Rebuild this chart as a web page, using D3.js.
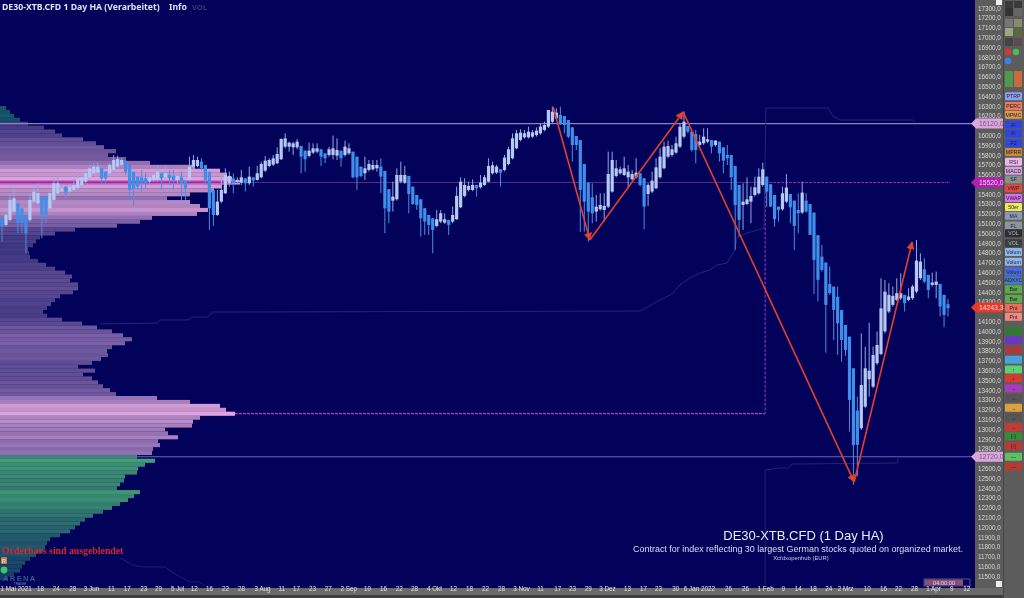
<!DOCTYPE html>
<html><head><meta charset="utf-8">
<script src="https://cdn.jsdelivr.net/npm/d3@7"></script>
<style>
html,body{margin:0;padding:0;background:#5a5a5a;overflow:hidden}
svg{display:block;filter:blur(0.4px)}
</style></head><body>
<svg id="c" width="1024" height="598"></svg>
<script>
// ---- candle data (Heikin-Ashi, index points) ----
const opens=[15154,15086,15137,15222,15307,15256,15188,15137,15324,15307,15375,15375,15256,15341,15409,15426,15477,15426,15443,15460,15494,15528,15572,15613,15620,15664,15630,15613,15647,15681,15698,15742,15698,15630,15579,15572,15562,15528,15545,15545,15613,15572,15596,15586,15545,15572,15538,15545,15681,15688,15732,15698,15630,15443,15188,15324,15409,15511,15562,15525,15518,15562,15511,15572,15545,15572,15640,15688,15701,15715,15756,15885,15885,15878,15878,15892,15844,15790,15824,15834,15858,15817,15800,15800,15793,15844,15800,15817,15834,15783,15681,15613,15647,15654,15664,15681,15637,15450,15334,15348,15528,15518,15586,15477,15392,15348,15256,15188,15154,15076,15120,15110,15137,15120,15144,15266,15382,15443,15443,15494,15470,15494,15528,15613,15620,15654,15647,15708,15766,15868,15953,15980,15980,15987,16004,16021,16055,16089,16140,16174,16208,16198,16157,16082,15994,15953,15708,15518,15368,15222,15246,15239,15273,15426,15586,15613,15596,15572,15552,15572,15613,15562,15402,15426,15460,15572,15664,15783,15800,15824,15885,15987,16096,16038,16014,15902,15919,15936,15953,15902,15936,15878,15800,15800,15688,15494,15290,15300,15324,15392,15409,15494,15579,15501,15392,15273,15246,15324,15402,15334,15239,15212,15334,15300,15212,14981,14763,14702,14484,14457,14354,14218,14065,13946,13623,13191,13011,13232,13511,13436,13674,13769,14000,14202,14270,14321,14338,14372,14321,14338,14406,14542,14634,14576,14474,14474,14484,14372,14277];
const closes=[15069,15188,15341,15358,15103,15103,15001,15341,15426,15409,15188,15188,15409,15511,15511,15460,15426,15477,15494,15562,15572,15613,15664,15681,15681,15562,15562,15698,15749,15759,15749,15630,15443,15460,15477,15511,15511,15572,15596,15630,15562,15613,15562,15545,15586,15511,15460,15681,15749,15749,15664,15545,15256,15188,15324,15443,15596,15586,15511,15545,15572,15511,15579,15538,15613,15708,15742,15749,15766,15810,15963,15970,15926,15919,15936,15783,15756,15844,15868,15868,15783,15766,15858,15868,15851,15766,15885,15868,15572,15572,15586,15664,15708,15698,15698,15579,15256,15222,15375,15596,15596,15596,15402,15300,15290,15154,15120,15086,15035,15144,15205,15144,15086,15188,15382,15528,15494,15484,15494,15460,15518,15572,15688,15695,15681,15620,15773,15858,15970,16021,16028,16021,16038,16031,16048,16089,16106,16259,16242,16232,16123,16106,15987,15902,15902,15443,15324,15222,15205,15273,15290,15280,15606,15749,15664,15654,15664,15630,15606,15620,15494,15273,15494,15538,15674,15783,15885,15892,15858,15919,16089,16140,16038,15851,15851,15936,15987,15960,15885,15946,15817,15742,15766,15572,15290,15137,15324,15348,15382,15470,15579,15654,15426,15273,15144,15239,15409,15467,15266,15076,15205,15416,15222,14984,14729,14525,14627,14270,14389,14219,14082,13912,13810,13300,12841,12841,13453,13623,13599,13759,13861,14235,14405,14372,14362,14389,14389,14287,14355,14457,14722,14712,14508,14423,14498,14508,14253,14168,14236];
const highs=[15171,15205,15409,15460,15307,15256,15188,15409,15494,15511,15375,15375,15426,15562,15579,15494,15477,15504,15528,15664,15596,15630,15698,15715,15722,15664,15630,15715,15800,15793,15766,15742,15698,15630,15579,15647,15613,15596,15630,15698,15613,15681,15647,15647,15613,15630,15538,15783,15800,15783,15766,15698,15630,15443,15443,15596,15664,15630,15613,15572,15647,15562,15681,15572,15688,15732,15790,15766,15800,15878,15970,16021,15936,15936,15963,15892,15844,15926,15919,15919,15858,15817,15885,15997,15970,15844,15946,15919,15834,15783,15681,15783,15749,15749,15749,15766,15637,15450,15528,15664,15732,15688,15586,15477,15392,15348,15256,15188,15154,15239,15239,15205,15137,15273,15477,15572,15562,15528,15552,15494,15596,15596,15766,15732,15698,15654,15800,15885,16021,16055,16062,16055,16089,16055,16082,16123,16140,16259,16293,16276,16293,16198,16157,16082,15994,15953,15708,15518,15511,15392,15409,15409,15834,15834,15749,15681,15783,15698,15647,15766,15613,15562,15511,15630,15766,15868,15936,15946,15902,15987,16123,16242,16096,16055,16055,16004,16072,16072,15953,15953,15936,15878,15902,15800,15688,15494,15511,15572,15477,15579,15664,15722,15579,15501,15392,15273,15477,15606,15402,15334,15409,15528,15409,15300,15212,14981,14882,14702,14661,14457,14456,14218,14065,13946,13623,13334,13980,13844,14089,13844,13997,14542,14524,14491,14457,14542,14593,14372,14440,14474,14933,14797,14746,14576,14600,14610,14484,14372,14328];
const lows=[14916,15069,15120,15205,15001,15001,14797,15120,15307,15290,14950,15103,15239,15324,15392,15409,15358,15409,15426,15443,15477,15511,15562,15596,15596,15511,15511,15596,15630,15664,15688,15596,15358,15273,15443,15426,15460,15511,15528,15528,15443,15562,15494,15443,15511,15341,15341,15528,15664,15674,15647,15494,15035,15076,15178,15307,15402,15477,15409,15504,15494,15426,15494,15477,15538,15562,15627,15674,15688,15708,15749,15868,15834,15800,15858,15613,15630,15776,15810,15817,15688,15715,15783,15756,15749,15681,15783,15800,15562,15443,15572,15545,15630,15640,15630,15409,15001,15103,15222,15334,15511,15504,15205,15290,15239,14967,14984,14984,14797,15062,15103,15096,14984,15103,15137,15256,15368,15426,15430,15375,15456,15484,15518,15600,15606,15477,15633,15695,15756,15858,15939,15967,15967,15973,15987,16007,16041,16075,16123,16157,16106,16021,15970,15732,15851,15015,15018,14916,15103,15120,15232,15120,15259,15416,15572,15599,15586,15460,15538,15559,15477,15042,15280,15409,15450,15559,15654,15770,15783,15810,15871,15970,16021,15834,15715,15885,15902,15919,15817,15885,15732,15613,15698,15443,14831,14967,15035,15287,15103,15375,15395,15477,15273,15273,15069,15120,15232,15307,15103,14831,15001,15198,15212,14984,14382,14304,14610,13782,14372,13912,13759,13691,13750,12977,12433,12518,12994,13215,13334,13419,13657,13756,13980,14185,14253,14307,14321,14202,14307,14321,14389,14525,14491,14338,14457,14338,14151,14042,14151];

// ---- volume profile ----
const profilePriceTop=16280, profileStep=40;
const profileVolume=[6,10,14,20,28,44,55,62,83,96,104,116,108,126,150,195,220,227,232,240,222,214,190,167,190,200,208,197,152,140,117,75,55,40,36,33,28,29,30,38,46,55,65,72,70,78,78,73,60,55,51,47,43,47,62,82,97,112,123,132,125,112,107,108,101,92,78,95,83,92,98,103,110,116,157,190,220,226,235,200,193,192,165,168,178,158,160,153,152,137,155,145,138,137,125,124,120,117,140,134,128,120,112,103,93,85,80,75,70,60,50,47,45,43,36,30,25,22,20,14,8];

// ---- levels & annotations ----
const levelHigh=16120, levelPoc=15520, levelLow=12720, levelPoc2=13160, lastPrice=14243.3;
const zigzagBars=[138.2,147.4,170.8,214.2,228.9];
const zigzagPrices=[16290,14932,16239,12462,14912];
const stepABars=[29.6,32.8,35.4,40.9,44.6,47.1,49.6,50.9];
const stepAPrices=[11687,11615,11595,11595,11493,11442,11442,11391];
const stepBBars=[24.6,38.9,39.6,46.6,47.6,51.7,52.7,160,165,168,170,172.5,175.1,177.6,179.4,181.9,183.9,184.5,187,190.8,191.3,191.8,207.6,208.8,210.6,229.1,229.6];
const stepBPrices=[14075,14085,14116,14116,14146,14146,14197,14207,14320,14381,14473,14544,14595,14626,14677,14697,14830,14963,15004,15045,15050,16279,16279,16198,16157,16157,16137];
const stepCBars=[191.6,191.6,195.4,197.4,198.4,225.1,225.4];
const stepCPrices=[11411,12585,12605,12605,12646,12656,12697];

// ---- axes ----
const hiddenPriceTicks=[16100,15500,14200,12700];
const priceTicks=d3.range(11500,17400,100).filter(d=>!hiddenPriceTicks.includes(d));
const xTickBars=[3.4,9.5,13.5,17.6,22.3,27.3,31.3,35.4,39.1,43.9,48.1,51.9,55.9,59.9,65.2,70,73.7,77.7,81.7,86.8,91.5,95.5,99.5,103.3,108.3,113.1,117.1,121.1,125.1,130.1,134.9,139.2,142.9,146.9,151.7,156.7,160.7,164.5,168.8,174.8,182.2,186.5,191.6,196.1,199.9,203.7,207.6,211.9,217.4,221.5,225.3,229.4,234.2,238.8,242.6];
const xTickLabels=["1 Mai 2021","18","24","28","3 Jun","11","17","23","29","5 Jul","12","16","22","28","3 Aug","11","17","23","27","2 Sep","10","16","22","28","4 Okt","12","18","22","28","3 Nov","11","17","23","29","3 Dez","13","17","23","30","6 Jan 2022","26","26","1 Feb","9","14","18","24","2 Mrz","10","16","22","28","1 Apr","9","12"];

// ---- side toolbar ----
const buttonLabels=["PTRP","PERC","MPMC","FI","FI","F2","MPRR","RSI","MACD","SF","VWP","VWAP","50er","MA","FL","VOL","VOL","Volum","Volum","Volum","ADXXC","Bar","Bar","Pnt","Pnt","","","","","↑","↓","→","→","→","→","→","[-]","[-]","—","—"];
const buttonColors=["#8f9ff0","#ee7a5e","#e09a4a","#2f45e0","#2f45e0","#2f45e0","#c98a3a","#e8b8e8","#d9a0e0","#8a8f8a","#e04a3c","#d870e8","#f0e860","#8a9ab0","#8f9498","#2b2e33","#3a3d42","#8fb6e8","#8fb6e8","#4a6ae0","#4a78c8","#5ca84a","#5ca84a","#ee6a5a","#ee8a80","#2d7a33","#6a38c0","#a83a3a","#4aa0d8","#5fd070","#d83a30","#a83ac0","#555555","#e0a040","#555555","#c83a30","#3a8a3a","#b83a30","#5fc060","#b83a30"];
const buttonPrices=[16400,16300,16210,16110,16020,15920,15830,15730,15640,15550,15460,15360,15270,15180,15080,15000,14900,14810,14710,14610,14520,14430,14330,14240,14150,14000,13910,13810,13710,13610,13520,13420,13320,13220,13120,13020,12930,12830,12720,12620];

const W=1024,H=598,plotR=975,axisR=1003,plotB=588;
const svg=d3.select("#c");
const x=d3.scaleLinear().domain([0,170,238]).range([2,680,948]);
const y=d3.scaleLinear().domain([17300,11500]).range([8,576.3]);
const font="'Liberation Sans',Arial,sans-serif";

svg.append("rect").attr("width",W).attr("height",H).attr("fill","#5c5c5c");
svg.append("rect").attr("width",plotR).attr("height",plotB).attr("fill","#02025a");
svg.append("rect").attr("y",595).attr("width",axisR).attr("height",3).attr("fill","#3d3d3d");
svg.append("line").attr("x1",axisR+.5).attr("x2",axisR+.5).attr("y1",0).attr("y2",H).attr("stroke","#474747");

// profile
const rows=profileVolume.map((v,i)=>({v,i,p:profilePriceTop-i*profileStep}));
const pw=d3.scaleLinear().domain([0,240]).range([0,240]);
const purple=d3.scaleLinear().domain([30,130,240]).range(["#443a86","#7d62aa","#e2a8e0"]);
const green=d3.scaleLinear().domain([10,150]).range(["#15406c","#429a78"]);
const rowH=Math.abs(y(0)-y(profileStep));
const plot=svg.append("g");
plot.selectAll("rect.row").data(rows).join("rect").attr("class","row")
 .attr("x",0).attr("y",d=>y(d.p)-rowH/2).attr("width",d=>pw(d.v)).attr("height",rowH+.2)
 .attr("fill",d=>{
   const col=d.p>levelHigh?"#15566a":(d.p>levelLow?purple(d.v):green(d.v));
   return d.i%2?d3.color(col).darker(.2):col;
 });

// level lines
const level=(p,a,b,col,w,dash)=>plot.append("line").attr("x1",a).attr("x2",b).attr("y1",y(p)).attr("y2",y(p)).attr("stroke",col).attr("stroke-width",w).attr("stroke-dasharray",dash||null);
level(levelHigh,0,plotR,"#8a80c4",1.2);
level(levelLow,0,plotR,"#6c64b4",1.2);
level(levelPoc,0,x(191.6),"#5d2b8e",1);
level(levelPoc,x(191.6),x(238.5),"#a020c8",1,"3,1");
level(levelPoc,0,pw(232),"#b020b0",2.2);
level(levelPoc2,0,pw(235),"#e8a0e8",1.4,"3,1");
level(levelPoc2,pw(235),x(191.6),"#b83ad0",1.2,"3,1");
plot.append("line").attr("x1",x(191.6)).attr("x2",x(191.6)).attr("y1",y(levelPoc)).attr("y2",y(levelPoc2)).attr("stroke","#b030d0").attr("stroke-width",1).attr("stroke-dasharray","3,1.5");

// thin stepped lines
const ln=d3.line().x(d=>x(d[0])).y(d=>y(d[1]));
[[stepABars,stepAPrices,"#1c2270"],[stepBBars,stepBPrices,"#242872"],[stepCBars,stepCPrices,"#1f2470"]].forEach(([b,p,c])=>{
  plot.append("path").datum(d3.zip(b,p)).attr("d",ln).attr("fill","none").attr("stroke",c).attr("stroke-width",1);
});

// candles
const candles=opens.map((o,i)=>({i,o,c:closes[i],h:highs[i],l:lows[i]}));
const UP="#b6c8f4",DN="#3f8eea";
const cg=plot.selectAll("g.k").data(candles).join("g").attr("class","k");
cg.append("line").attr("x1",d=>x(d.i)).attr("x2",d=>x(d.i)).attr("y1",d=>y(d.h)).attr("y2",d=>y(d.l))
  .attr("stroke",d=>d.c>=d.o?"#8fa8e6":"#4a90e4").attr("stroke-width",1);
cg.append("rect").attr("x",d=>x(d.i)-1.6).attr("width",3.2).attr("y",d=>y(Math.max(d.o,d.c))).attr("height",d=>Math.max(1,Math.abs(y(d.o)-y(d.c))))
  .attr("fill",d=>d.c>=d.o?UP:DN);

// zigzag arrows
const defs=svg.append("defs");
defs.append("marker").attr("id","ah").attr("viewBox","0 0 10 10").attr("refX",9).attr("refY",5).attr("markerWidth",8).attr("markerHeight",8).attr("markerUnits","userSpaceOnUse").attr("orient","auto")
 .append("path").attr("d","M0,0L10,5L0,10Z").attr("fill","#e8402c");
d3.pairs(d3.zip(zigzagBars,zigzagPrices)).forEach(([a,b])=>{
  plot.append("line").attr("x1",x(a[0])).attr("y1",y(a[1])).attr("x2",x(b[0])).attr("y2",y(b[1]))
   .attr("stroke","#e0402c").attr("stroke-width",1.6).attr("marker-end","url(#ah)");
});

// texts in plot
const T=(s,px,py,o={})=>svg.append("text").text(s).attr("x",px).attr("y",py).attr("font-family",o.f||font).attr("font-size",o.s||8)
  .attr("font-weight",o.w||"normal").attr("fill",o.c||"#fff").attr("text-anchor",o.a||"start");
const vf="'Noto Sans','DejaVu Sans',sans-serif";
T("DE30-XTB.CFD 1 Day HA (Verarbeitet)",2,9.5,{f:vf,s:8.7,w:"bold",c:"#dfe4f4"});
T("Info",169,9.5,{f:vf,s:8.7,w:"bold",c:"#dfe4f4"});
T("VOL",192,9.5,{f:vf,s:7.5,w:"bold",c:"#3a3a72"});
T("Orderbars sind ausgeblendet",2,554,{f:"'Liberation Serif',serif",s:9.8,w:"bold",c:"#d8282c"});
svg.append("rect").attr("x",1).attr("y",557).attr("width",6).attr("height",7).attr("rx",1).attr("fill","#c87a50");
T("R",4,563,{s:6,a:"middle",c:"#eee"});
svg.append("circle").attr("cx",4).attr("cy",570).attr("r",3.4).attr("fill","#42c46a");
T("ARENA",3,580.5,{s:7.5,w:"bold",c:"#2f6090"}).attr("letter-spacing",1.4);
T("TRADER",14,584.8,{s:3,c:"#6f8fb0"});
T("DE30-XTB.CFD (1 Day HA)",803.5,540,{s:13,a:"middle",c:"#e6ecf8"});
T("Contract for index reflecting 30 largest German stocks quoted on organized market.",798,552,{s:8.95,a:"middle",c:"#d8def4"});
T("Xcfdxopenhub   (EUR)",801,560,{s:5.9,a:"middle",c:"#c4cbe8"});

// timer
svg.append("rect").attr("x",924).attr("y",579).attr("width",46).attr("height",7).attr("fill","#02025a").attr("stroke","#8a8aa8").attr("stroke-width",.6);
svg.append("rect").attr("x",924.5).attr("y",579.5).attr("width",38.5).attr("height",6).attr("fill","#8a5078");
T("04:00:00",944,585,{s:5.6,a:"middle",c:"#e0d0dc"});

// right price axis
const ax=svg.append("g").attr("transform",`translate(${plotR},0)`).call(d3.axisRight(y).tickValues(priceTicks).tickSize(0).tickPadding(3).tickFormat(d=>d3.format(".1f")(d).replace(".",",")));
ax.select(".domain").remove();
ax.selectAll("text").attr("font-family",font).attr("font-size",6.3).attr("fill","#d8d8d8");

// bottom axis
const bx=svg.append("g").attr("transform",`translate(0,${plotB})`).call(d3.axisBottom(x).tickValues(xTickBars).tickSize(0).tickPadding(0).tickFormat((d,i)=>xTickLabels[i]));
bx.select(".domain").remove();
svg.insert("rect",()=>bx.node()).attr("x",0).attr("y",plotB).attr("width",axisR).attr("height",7).attr("fill","#6a6a6a");
bx.selectAll("text").attr("font-family",font).attr("font-size",6.3).attr("fill","#e4e4e4").attr("dy","0.55em");

// price tags
const tag=(v,label,col,tx)=>{
  const yy=y(v);
  svg.append("path").attr("d",`M${plotR-4},${yy}L${plotR+1},${yy-5}L${axisR},${yy-5}L${axisR},${yy+5}L${plotR+1},${yy+5}Z`).attr("fill",col);
  T(label,plotR+4,yy+2.5,{s:6.8,c:tx});
};
tag(levelHigh,"16120,0","#dba6dd","#7a5a7a");
tag(levelPoc,"15520,0","#b21eb0","#f0d0f0");
tag(lastPrice,"14243,3","#e6392c","#f8dcd8");
tag(levelLow,"12720,0","#dba6dd","#7a5a7a");
svg.append("rect").attr("x",996).attr("y",0).attr("width",6).attr("height",5).attr("fill","#eee");
svg.append("rect").attr("x",996).attr("y",581).attr("width",6).attr("height",6).attr("fill","#eee");

// toolbar
const bb=svg.append("g");
buttonLabels.forEach((l,i)=>{
  const yy=y(buttonPrices[i]);
  bb.append("rect").attr("x",1005).attr("y",yy-4).attr("width",17).attr("height",8).attr("rx",1).attr("fill",buttonColors[i]);
  bb.append("text").text(l).attr("x",1013.5).attr("y",yy+2).attr("text-anchor","middle").attr("font-family",font).attr("font-size",5.2).attr("fill",i>=15&&i<17?"#bbb":"#1c1c3c");
});
const iconRows=[[5,"#3a3a3a","#3a3a3a"],[12,"#333","#666"],[23,"#777","#8a8a6a"],[32,"#9aa880","#5a6a3a"],[42,"#444","#604a50"],[75,"#4f9a4a","#c86a40"],[83,"#4f9a4a","#c86a40"]];
iconRows.forEach(([py,a,b])=>{
  bb.append("rect").attr("x",1005).attr("y",py-4).attr("width",8).attr("height",8).attr("fill",a);
  bb.append("rect").attr("x",1014).attr("y",py-4).attr("width",8).attr("height",8).attr("fill",b);
});
[[1008,52,"#e03030"],[1016,52,"#4ac04a"],[1008,61,"#3a80e8"]].forEach(([a,b,c])=>bb.append("circle").attr("cx",a).attr("cy",b).attr("r",3.2).attr("fill",c));
</script>
</body></html>
